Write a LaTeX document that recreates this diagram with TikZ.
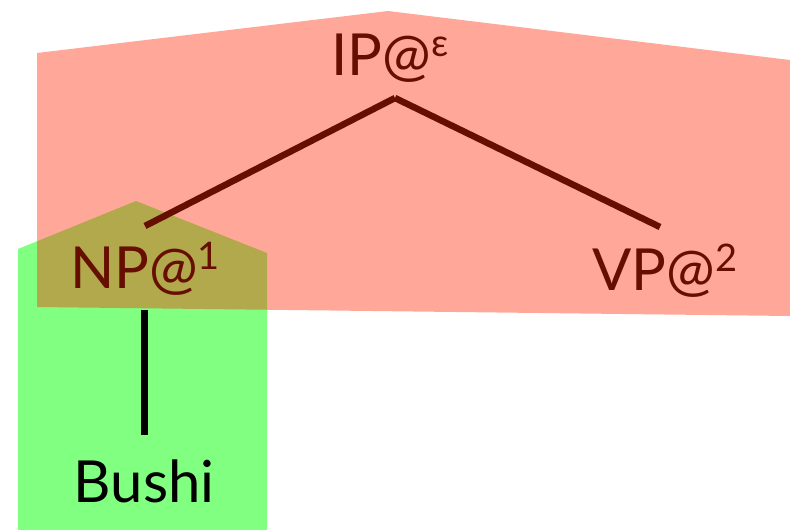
\documentclass[tikz,border=0pt]{standalone}
\usepackage{fontspec}
\setmainfont{Lato}
\usetikzlibrary{calc}
\definecolor{leafgreen}{RGB}{128,255,128}
\definecolor{phrasered}{RGB}{255,38,0}
\newcommand{\lbl}[2]{#1@\raisebox{19pt}{\fontsize{38}{38}\selectfont #2}}
\tikzset{
  cat/.style={inner sep=0pt, anchor=base, font=\fontsize{58}{58}\selectfont, text=black},
  branch/.style={line width=6.5pt, draw=black},
  region/.style={draw=none}
}
\begin{document}
\begin{tikzpicture}[x=1pt,y=-1pt]
\useasboundingbox (0,0) rectangle (790,530);
% lexical region (under the tree)
\fill[leafgreen, region] (18,249) -- (136,201) -- (267,253) -- (267,530) -- (18,530) -- cycle;
% tree
\node[cat] (ip) at (390,75) {\lbl{IP}{ε}};
\node[cat] (np) at (145,288) {\lbl{NP}{1}};
\node[cat] (vp) at (665,290) {\lbl{VP}{2}};
\node[cat] (bushi) at (144,502) {Bushi};
\draw[branch] ($(ip.base)+(5,23)$) -- ($(np.base)+(0,-62)$);
\draw[branch] ($(ip.base)+(5,23)$) -- ($(vp.base)+(-5,-63)$);
\draw[branch, line width=7pt] ($(np.base)+(-1,22)$) -- ($(bushi.base)+(0,-67)$);
% phrasal region (translucent, over the tree)
\fill[phrasered, opacity=0.4, region] (37,53) -- (388,11) -- (790,60) -- (790,316) -- (37,307) -- cycle;
\end{tikzpicture}
\end{document}
